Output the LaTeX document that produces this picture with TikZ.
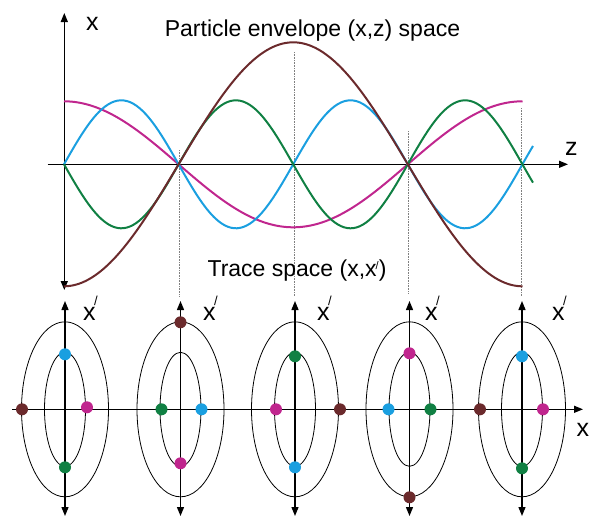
\documentclass[tikz,border=0pt]{standalone}
\usepackage{fontspec}
\setmainfont{Liberation Sans}
\usepackage{xcolor}
\usetikzlibrary{arrows.meta}

\definecolor{envbrown}{HTML}{6B2A2C}
\definecolor{trblue}{HTML}{1A9FE0}
\definecolor{trgreen}{HTML}{108043}
\definecolor{trmagenta}{HTML}{C0268E}

\newcommand{\bigslash}{\kern-1.5pt\raisebox{15pt}{\fontsize{13}{13}\selectfont /}}
\newcommand{\smallslash}{\kern-1pt\raisebox{7pt}{\fontsize{11}{11}\selectfont /}}

\begin{document}
\begin{tikzpicture}[x=1pt,y=-1pt,
  axis/.style={line width=1.3pt,-{Triangle[length=9pt,width=7pt]}},
  dblaxis/.style={line width=1.3pt,{Triangle[length=9pt,width=7pt]}-{Triangle[length=9pt,width=7pt]}},
  wave/.style={line width=2pt,samples=150,smooth},
  guide/.style={gray,densely dotted,line width=0.6pt},
  ring/.style={line width=0.8pt},
  lbl/.style={inner sep=0pt,anchor=base,font=\fontsize{23}{26}\selectfont},
  letter/.style={inner sep=0pt,anchor=base west,font=\fontsize{25}{28}\selectfont}]
  \useasboundingbox (0,0) rectangle (589,517);

  % envelope space
  \draw[guide] (179.5,150) -- (179.5,296);
  \draw[guide] (294,52) -- (294,296);
  \draw[guide] (408.5,131) -- (408.5,294);
  \draw[guide] (521.5,108) -- (521.5,296);
  \draw[dblaxis] (64.3,290) -- (64.3,13);
  \draw[axis] (47.7,164.3) -- (568,164.3);
  \draw[wave,trmagenta,domain=64:522.5] plot (\x,{164.3-63*cos(0.78534*(\x-64))});
  \draw[wave,trblue,domain=64:533] plot (\x,{164.3-64*sin(1.57068*(\x-64))});
  \draw[wave,trgreen,domain=64:533] plot (\x,{164.3+64*sin(1.57068*(\x-64))});
  \draw[wave,envbrown,domain=64:522.5] plot (\x,{164.3+122*cos(0.78534*(\x-64))});
  \node[letter] (xtop) at (86,30) {x};
  \node[letter] (ztop) at (565,155) {z};
  \node[lbl] (envtitle) at (312.5,36) {Particle envelope (x,z) space};
  \node[lbl] (trtitle) at (297,276.7) {Trace space (x,x\smallslash)};

  % trace space
  \draw[axis] (12,409.3) -- (583,409.3);
  \node[letter] (xbot) at (576.5,436) {x};
  \foreach \cx/\lx in {65/83,180.5/203,295/317,409.5/425,522/552}{
    \draw[dblaxis] (\cx,516) -- (\cx,301);
    \draw[ring] (\cx,409.3) ellipse [x radius=43.5,y radius=87.5];
    \draw[ring] (\cx,409.3) ellipse [x radius=20.5,y radius=57];
    \node[letter] at (\lx,320) {x\bigslash};
  }
  \foreach \cx/\bx/\by/\gx/\gy/\mx/\my/\rx/\ry in {
    65/0/-55/0/58/22/-2/-43/0,
    180.5/21/0/-19/0/0/54/0/-87,
    295/0/58/0/-53/-19/0/45/0,
    409.5/-21/0/21/0/0/-56/0/88,
    522/0/-53/0/59/21/0/-42/0}{
    \fill[trblue] (\cx+\bx,409.3+\by) circle (6);
    \fill[trgreen] (\cx+\gx,409.3+\gy) circle (6);
    \fill[trmagenta] (\cx+\mx,409.3+\my) circle (6);
    \fill[envbrown] (\cx+\rx,409.3+\ry) circle (6);
  }
\end{tikzpicture}
\end{document}
